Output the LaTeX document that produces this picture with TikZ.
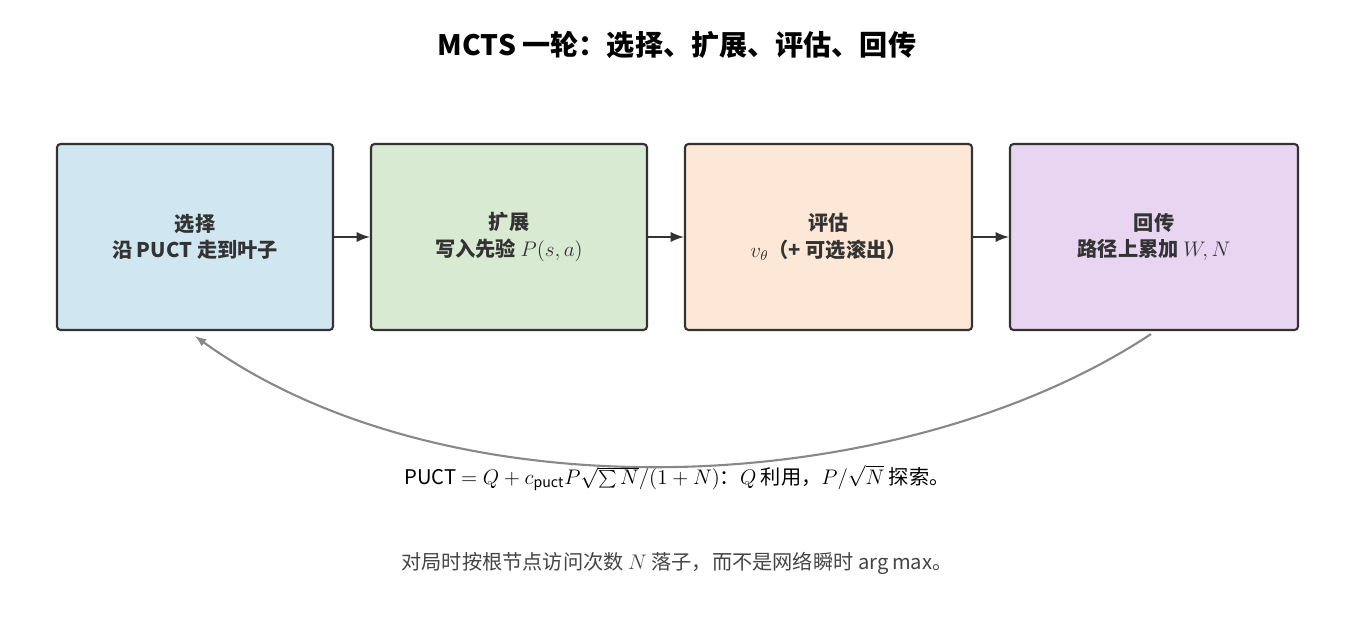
\documentclass[tikz,border=0pt]{standalone}
\usepackage{fontspec}
\setmainfont{Noto Sans CJK SC}
\usetikzlibrary{positioning}
\definecolor{boxline}{HTML}{333333}
\definecolor{selfill}{HTML}{D0E6F0}
\definecolor{expfill}{HTML}{D9EAD3}
\definecolor{evafill}{HTML}{FDE7D6}
\definecolor{bakfill}{HTML}{E8D5F1}
\definecolor{loopline}{HTML}{888888}
\definecolor{notetext}{HTML}{444444}
\tikzset{
  stage/.style={draw=boxline, line width=1.2pt, rounded corners=2pt, minimum height=186*0.02cm,
    align=center, font=\fontsize{11.5}{15}\selectfont\bfseries, text=boxline},
  flow/.style={-latex, line width=1.6pt, draw=boxline},
}
\begin{document}
\begin{tikzpicture}[x=0.02cm,y=-0.02cm]
      \useasboundingbox (0,0) rectangle (1355,630);
      \node (title) at (677,45) {\fontsize{16}{20}\selectfont\bfseries MCTS 一轮：选择、扩展、评估、回传};
      \node[stage, fill=selfill, minimum width=276*0.02cm] (sel) at (195,237) {选择\\沿 PUCT 走到叶子};
      \node[stage, fill=expfill, minimum width=276*0.02cm] (exp) at (509,237) {扩展\\写入先验 $P(s,a)$};
      \node[stage, fill=evafill, minimum width=287*0.02cm] (eva) at (828.5,237) {评估\\$v_\theta$（+ 可选滚出）};
      \node[stage, fill=bakfill, minimum width=288*0.02cm] (bak) at (1154,237) {回传\\路径上累加 $W,N$};
      \draw[flow] (sel) -- (exp);
      \draw[flow] (exp) -- (eva);
      \draw[flow] (eva) -- (bak);
      \draw[-latex, line width=1.2pt, draw=loopline] ([xshift=-0.06cm,yshift=-0.06cm]bak.south)
        .. controls (900,500) and (450,520) .. ([yshift=-0.1cm]sel.south);
      \node (puct) at (677,478) {\fontsize{11.5}{14}\selectfont PUCT $=Q+c_{\mathrm{puct}}P\sqrt{\sum N}/(1+N)$：$Q$ 利用，$P/\sqrt{N}$ 探索。};
      \node[text=notetext] (note) at (677,563) {\fontsize{11.5}{14}\selectfont 对局时按根节点访问次数 $N$ 落子，而不是网络瞬时 $\arg\max$。};
\end{tikzpicture}
\end{document}
